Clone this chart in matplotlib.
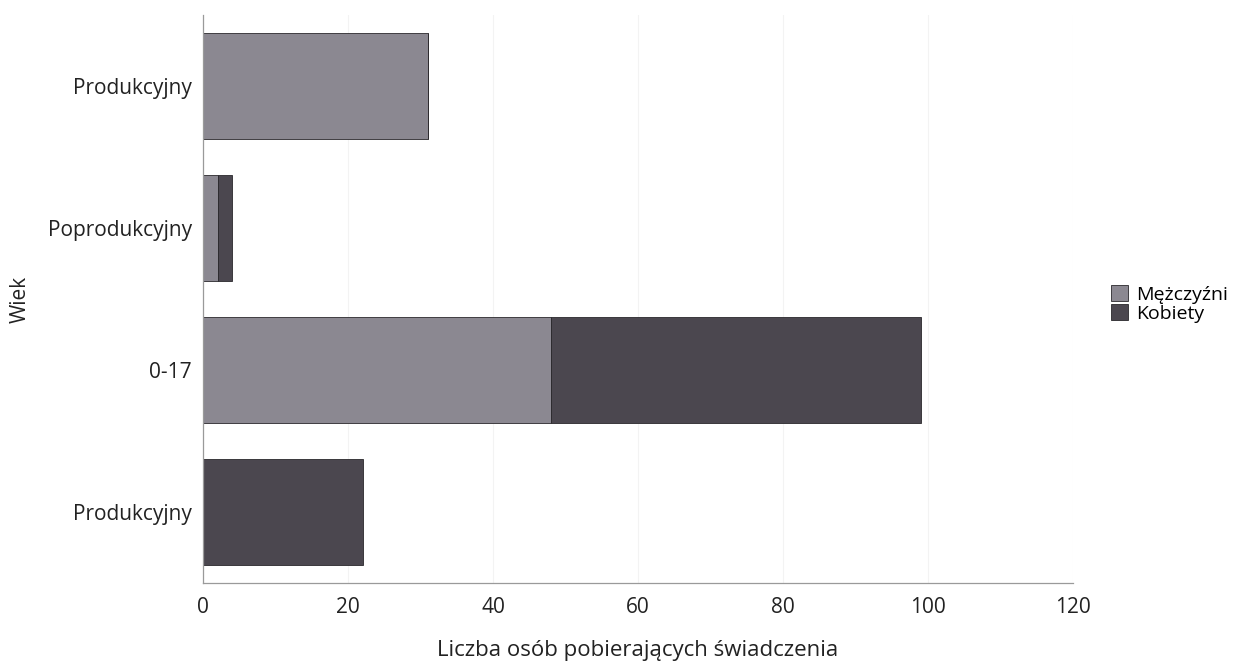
import numpy as np
from matplotlib import pyplot as plt

plt.rcParams['font.family'] = ['Open Sans', 'DejaVu Sans']

# dane (od dołu do góry)
kategorie = ['Produkcyjny', '0-17', 'Poprodukcyjny', 'Produkcyjny']
mezczyzni = [0, 48, 2, 31]
kobiety = [22, 51, 2, 0]

kolor_m = '#8b8891'
kolor_k = '#4b474f'

fig = plt.figure(figsize=(12.36, 6.61), dpi=100)
ax = fig.add_axes([203/1236, 1 - 583/661, 870/1236, 568/661])

y = np.arange(len(kategorie))
ax.barh(y, mezczyzni, height=0.75, color=kolor_m, label='Mężczyźni',
        edgecolor='#2a282c', linewidth=0.6)
ax.barh(y, kobiety, height=0.75, left=mezczyzni, color=kolor_k, label='Kobiety',
        edgecolor='#2a282c', linewidth=0.6)

ax.set_xlim(0, 120)
ax.set_ylim(-0.5, 3.5)
ax.set_xticks(range(0, 121, 20))
ax.set_yticks(y)
ax.set_yticklabels(kategorie)
ax.tick_params(axis='both', length=0, labelsize=15, colors='#222222')
ax.tick_params(axis='x', pad=10)
ax.tick_params(axis='y', pad=8)
ax.grid(axis='x', color='#f3f3f3', linewidth=0.8)
ax.set_axisbelow(True)

for s in ['top', 'right']:
    ax.spines[s].set_visible(False)
for s in ['left', 'bottom']:
    ax.spines[s].set_color('#9a9a9a')
    ax.spines[s].set_linewidth(0.9)

ax.set_xlabel('Liczba osób pobierających świadczenia', fontsize=16, color='#222222', labelpad=16)
ax.set_ylabel('Wiek', fontsize=15, color='#222222', labelpad=12)

handles, labels = ax.get_legend_handles_labels()
fig.legend(handles, labels, loc='center left', bbox_to_anchor=(1093/1236, 1 - 304/661),
           frameon=False, fontsize=14, handlelength=0.9, handleheight=0.9,
           handletextpad=0.4, labelspacing=0.0)

fig.savefig('out.png', dpi=100)
